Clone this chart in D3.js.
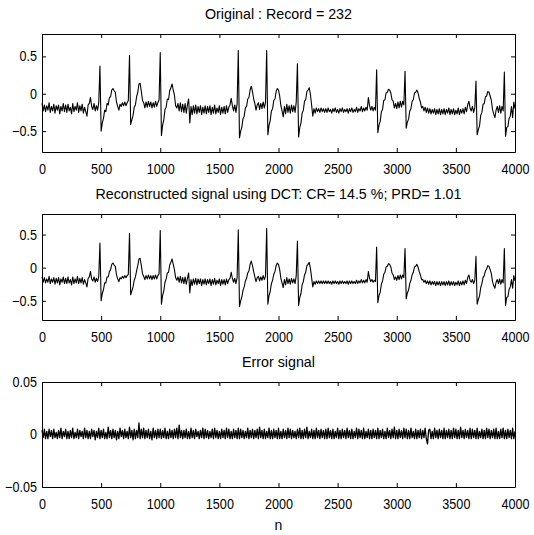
<!DOCTYPE html>
<html lang="en"><head>
<meta charset="utf-8">
<title>DCT compression - record 232</title>
<script src="https://cdnjs.cloudflare.com/ajax/libs/d3/7.8.5/d3.min.js"></script>
<style>
  body { margin: 0; background: #fff; }
  svg text { font-family: "Liberation Sans", Arial, sans-serif; fill: #000; }
  .axis path, .axis line { stroke: #000; }
</style>
</head>
<body>
<svg id="chart" width="534" height="535"></svg>
<script>
// samples every 10 points, n = 0 ... 4000
let step = 10

let originalSignal = [
  -0.13,-0.23,-0.15,-0.24,-0.16,-0.22,-0.12,-0.25,-0.17,-0.23,-0.14,-0.26,-0.16,-0.22,-0.15,-0.27,-0.17,-0.23,-0.13,-0.24,
  -0.15,-0.25,-0.14,-0.23,-0.18,-0.27,-0.13,-0.24,-0.17,-0.22,-0.12,-0.25,-0.16,-0.23,-0.14,-0.26,-0.18,-0.24,-0.30,-0.15,
  -0.13,-0.05,-0.17,-0.21,-0.13,-0.23,-0.16,-0.22,-0.12,0.37,-0.50,-0.39,-0.33,-0.22,-0.24,-0.13,-0.15,-0.05,-0.04,0.05,
  0.07,0.04,0.02,-0.11,-0.17,-0.22,-0.14,-0.17,-0.12,-0.16,-0.11,-0.16,-0.12,-0.09,0.51,-0.41,-0.35,-0.29,-0.18,-0.15,
  -0.04,0.02,0.13,0.14,0.03,-0.09,-0.12,-0.19,-0.11,-0.18,-0.10,-0.17,-0.11,-0.19,-0.12,-0.18,-0.10,-0.17,-0.12,-0.08,
  0.55,-0.56,-0.42,-0.35,-0.21,-0.18,-0.07,-0.08,0.04,0.08,0.13,0.05,-0.02,-0.16,-0.19,-0.13,-0.23,-0.12,-0.24,-0.14,
  -0.25,-0.13,-0.26,-0.15,-0.07,-0.39,-0.17,-0.28,-0.16,-0.26,-0.15,-0.27,-0.17,-0.25,-0.16,-0.28,-0.18,-0.26,-0.16,-0.27,
  -0.17,-0.25,-0.16,-0.28,-0.18,-0.26,-0.15,-0.27,-0.19,-0.25,-0.16,-0.28,-0.18,-0.26,-0.17,-0.27,-0.16,-0.25,-0.18,-0.15,
  -0.06,-0.16,-0.23,-0.15,-0.25,-0.14,0.58,-0.59,-0.50,-0.45,-0.33,-0.30,-0.19,-0.17,-0.07,-0.05,0.05,0.10,0.03,-0.07,
  -0.13,-0.22,-0.15,-0.12,-0.21,-0.13,-0.20,-0.11,-0.19,-0.12,0.58,-0.55,-0.42,-0.36,-0.23,-0.20,-0.09,-0.07,0.03,0.07,
  0.05,-0.03,-0.16,-0.23,-0.31,-0.17,-0.27,-0.14,-0.25,-0.16,-0.26,-0.15,-0.24,-0.16,-0.25,-0.11,0.40,-0.58,-0.45,-0.39,
  -0.26,-0.22,-0.10,-0.08,0.03,0.05,0.08,-0.01,-0.15,-0.30,-0.20,-0.26,-0.19,-0.24,-0.20,-0.25,-0.19,-0.24,-0.20,-0.25,
  -0.20,-0.25,-0.19,-0.24,-0.21,-0.26,-0.20,-0.24,-0.19,-0.25,-0.21,-0.26,-0.20,-0.24,-0.19,-0.25,-0.21,-0.24,-0.20,-0.26,
  -0.20,-0.24,-0.19,-0.25,-0.21,-0.24,-0.18,-0.25,-0.20,-0.23,-0.17,-0.24,-0.19,-0.23,-0.18,-0.22,-0.05,-0.16,-0.22,-0.17,
  -0.23,-0.18,-0.22,0.32,-0.52,-0.42,-0.37,-0.24,-0.21,-0.09,-0.08,0.01,0.02,0.06,0.05,0.01,-0.08,-0.10,-0.19,-0.13,
  -0.20,-0.11,-0.19,-0.10,-0.18,-0.10,-0.15,0.30,-0.46,-0.38,-0.34,-0.23,-0.20,-0.10,-0.08,0.01,0.02,0.05,0.01,-0.06,
  -0.11,-0.19,-0.17,-0.23,-0.18,-0.25,-0.19,-0.26,-0.20,-0.27,-0.21,-0.26,-0.20,-0.28,-0.21,-0.27,-0.20,-0.28,-0.21,-0.27,
  -0.20,-0.28,-0.21,-0.26,-0.19,-0.28,-0.21,-0.27,-0.20,-0.28,-0.22,-0.27,-0.19,-0.28,-0.21,-0.26,-0.20,-0.27,-0.18,-0.24,
  -0.15,-0.10,-0.19,-0.23,-0.17,-0.25,-0.19,0.17,-0.55,-0.48,-0.43,-0.29,-0.25,-0.14,-0.13,-0.04,-0.03,0.03,0.02,-0.03,
  -0.09,-0.21,-0.27,-0.32,-0.22,-0.17,-0.25,-0.16,-0.26,-0.17,-0.23,0.29,-0.57,-0.45,-0.44,-0.33,-0.30,-0.17,-0.32,-0.11,
  -0.20
]

let reconstructedSignal = [
  -0.14,-0.22,-0.15,-0.23,-0.17,-0.22,-0.13,-0.24,-0.17,-0.22,-0.15,-0.25,-0.16,-0.23,-0.15,-0.26,-0.17,-0.22,-0.14,-0.24,
  -0.16,-0.24,-0.14,-0.23,-0.18,-0.26,-0.14,-0.24,-0.17,-0.23,-0.13,-0.24,-0.16,-0.23,-0.15,-0.25,-0.18,-0.23,-0.29,-0.16,
  -0.14,-0.06,-0.17,-0.20,-0.14,-0.22,-0.16,-0.21,-0.13,0.37,-0.50,-0.39,-0.33,-0.23,-0.23,-0.14,-0.14,-0.06,-0.03,0.05,
  0.07,0.04,0.02,-0.11,-0.17,-0.21,-0.15,-0.17,-0.13,-0.16,-0.12,-0.15,-0.12,-0.10,0.52,-0.41,-0.35,-0.29,-0.19,-0.14,
  -0.05,0.03,0.13,0.14,0.03,-0.09,-0.13,-0.18,-0.12,-0.17,-0.11,-0.17,-0.12,-0.18,-0.12,-0.17,-0.11,-0.17,-0.12,-0.09,
  0.56,-0.55,-0.42,-0.35,-0.22,-0.17,-0.08,-0.07,0.04,0.08,0.13,0.05,-0.03,-0.15,-0.19,-0.14,-0.22,-0.13,-0.23,-0.15,
  -0.24,-0.14,-0.25,-0.16,-0.08,-0.38,-0.18,-0.27,-0.17,-0.25,-0.16,-0.26,-0.17,-0.24,-0.17,-0.27,-0.18,-0.25,-0.17,-0.26,
  -0.18,-0.24,-0.17,-0.27,-0.18,-0.25,-0.16,-0.26,-0.19,-0.24,-0.17,-0.27,-0.18,-0.25,-0.18,-0.26,-0.17,-0.24,-0.18,-0.16,
  -0.07,-0.16,-0.22,-0.16,-0.24,-0.15,0.57,-0.59,-0.50,-0.44,-0.34,-0.29,-0.20,-0.16,-0.08,-0.05,0.05,0.10,0.03,-0.06,
  -0.14,-0.21,-0.15,-0.13,-0.20,-0.14,-0.19,-0.12,-0.18,-0.13,0.59,-0.55,-0.42,-0.36,-0.24,-0.19,-0.10,-0.06,0.03,0.07,
  0.05,-0.03,-0.16,-0.23,-0.30,-0.18,-0.26,-0.15,-0.24,-0.17,-0.25,-0.16,-0.23,-0.17,-0.24,-0.12,0.40,-0.57,-0.45,-0.39,
  -0.26,-0.21,-0.11,-0.07,0.03,0.05,0.08,-0.01,-0.15,-0.29,-0.21,-0.25,-0.20,-0.24,-0.20,-0.24,-0.20,-0.24,-0.20,-0.24,
  -0.20,-0.24,-0.20,-0.24,-0.21,-0.25,-0.20,-0.24,-0.20,-0.24,-0.21,-0.25,-0.20,-0.24,-0.20,-0.24,-0.21,-0.24,-0.20,-0.25,
  -0.20,-0.24,-0.20,-0.24,-0.21,-0.24,-0.19,-0.24,-0.20,-0.23,-0.18,-0.23,-0.19,-0.23,-0.18,-0.22,-0.06,-0.16,-0.21,-0.18,
  -0.22,-0.19,-0.21,0.31,-0.53,-0.42,-0.37,-0.25,-0.20,-0.10,-0.07,0.01,0.02,0.06,0.05,0.01,-0.08,-0.11,-0.18,-0.14,
  -0.19,-0.12,-0.18,-0.11,-0.17,-0.11,-0.15,0.29,-0.47,-0.38,-0.34,-0.24,-0.19,-0.11,-0.07,0.01,0.02,0.05,0.01,-0.06,
  -0.11,-0.18,-0.18,-0.22,-0.19,-0.24,-0.20,-0.25,-0.20,-0.26,-0.21,-0.25,-0.21,-0.27,-0.21,-0.26,-0.21,-0.27,-0.21,-0.26,
  -0.21,-0.27,-0.21,-0.26,-0.20,-0.27,-0.21,-0.26,-0.21,-0.27,-0.22,-0.26,-0.20,-0.27,-0.21,-0.26,-0.20,-0.26,-0.19,-0.24,
  -0.15,-0.11,-0.19,-0.22,-0.18,-0.24,-0.19,0.17,-0.55,-0.48,-0.43,-0.30,-0.24,-0.15,-0.12,-0.05,-0.02,0.03,0.02,-0.03,
  -0.09,-0.21,-0.27,-0.31,-0.22,-0.18,-0.24,-0.17,-0.25,-0.18,-0.23,0.29,-0.57,-0.45,-0.44,-0.33,-0.29,-0.18,-0.31,-0.12,
  -0.20
]

let errorSignal = [
  0.004,-0.003,0.005,-0.004,0.003,-0.004,0.005,-0.002,0.004,-0.004,0.005,-0.003,0.002,-0.004,0.004,-0.003,0.006,-0.004,0.003,-0.002,
  0.005,-0.004,0.003,-0.004,0.004,-0.003,0.006,-0.004,0.002,-0.003,0.005,-0.004,0.004,-0.002,0.003,-0.004,0.006,-0.003,0.004,-0.004,
  0.003,-0.004,0.005,-0.002,0.004,-0.005,0.003,-0.003,0.006,-0.004,0.004,-0.003,0.005,-0.004,0.002,-0.004,0.007,-0.003,0.004,-0.004,
  0.005,-0.003,0.004,-0.005,0.003,-0.004,0.006,-0.002,0.004,-0.004,0.005,-0.003,0.003,-0.004,0.007,-0.003,0.004,-0.005,0.005,-0.004,
  0.004,-0.003,0.011,-0.004,0.005,-0.003,0.006,-0.004,0.004,-0.003,0.005,-0.004,0.003,-0.005,0.006,-0.003,0.004,-0.004,0.005,-0.003,
  0.005,-0.004,0.004,-0.003,0.006,-0.004,0.003,-0.004,0.005,-0.003,0.004,-0.004,0.005,-0.003,0.006,-0.004,0.009,-0.003,0.004,-0.004,
  0.004,-0.003,0.005,-0.004,0.003,-0.004,0.006,-0.003,0.004,-0.004,0.005,-0.002,0.003,-0.004,0.004,-0.003,0.006,-0.004,0.005,-0.003,
  0.004,-0.004,0.003,-0.003,0.005,-0.004,0.006,-0.003,0.004,-0.004,0.003,-0.004,0.005,-0.003,0.004,-0.004,0.006,-0.003,0.005,-0.004,
  0.003,-0.004,0.005,-0.003,0.004,-0.004,0.006,-0.004,0.005,-0.003,0.004,-0.004,0.003,-0.003,0.006,-0.004,0.004,-0.003,0.005,-0.004,
  0.004,-0.003,0.005,-0.004,0.007,-0.003,0.004,-0.004,0.005,-0.004,0.003,-0.003,0.006,-0.004,0.004,-0.004,0.005,-0.003,0.004,-0.004,
  0.006,-0.004,0.003,-0.004,0.005,-0.003,0.004,-0.004,0.006,-0.003,0.005,-0.004,0.004,-0.003,0.003,-0.004,0.005,-0.003,0.006,-0.004,
  0.004,-0.004,0.005,-0.003,0.007,-0.004,0.003,-0.003,0.005,-0.004,0.004,-0.004,0.006,-0.003,0.004,-0.004,0.005,-0.003,0.004,-0.004,
  0.005,-0.004,0.006,-0.003,0.004,-0.004,0.005,-0.004,0.003,-0.003,0.006,-0.004,0.004,-0.004,0.005,-0.003,0.004,-0.004,0.006,-0.003,
  0.004,-0.004,0.005,-0.004,0.003,-0.003,0.006,-0.004,0.005,-0.003,0.004,-0.004,0.006,-0.004,0.003,-0.003,0.005,-0.004,0.004,-0.004,
  0.005,-0.003,0.004,-0.004,0.006,-0.004,0.004,-0.003,0.005,-0.004,0.003,-0.004,0.006,-0.003,0.004,-0.004,0.005,-0.003,0.007,-0.004,
  0.004,-0.004,0.005,-0.003,0.004,-0.004,0.006,-0.003,0.005,-0.004,0.004,-0.004,0.006,-0.003,0.003,-0.004,0.005,-0.004,0.004,-0.003,
  0.005,-0.004,0.004,-0.003,0.006,-0.004,-0.009,0.004,0.005,-0.004,0.003,-0.004,0.006,-0.003,0.004,-0.004,0.005,-0.003,0.004,-0.004,
  0.006,-0.004,0.004,-0.003,0.005,-0.004,0.004,-0.004,0.006,-0.003,0.005,-0.004,0.004,-0.004,0.007,-0.003,0.004,-0.004,0.005,-0.003,
  0.004,-0.004,0.006,-0.004,0.005,-0.003,0.004,-0.004,0.006,-0.004,0.003,-0.003,0.005,-0.004,0.004,-0.004,0.006,-0.003,0.005,-0.004,
  0.004,-0.003,0.005,-0.004,0.006,-0.004,0.003,-0.004,0.005,-0.003,0.006,-0.004,0.004,-0.004,0.005,-0.003,0.004,-0.004,0.006,-0.004,
  0.003
]

let xTicks = [0, 500, 1000, 1500, 2000, 2500, 3000, 3500, 4000]
let ecgTicks = [-0.5, 0, 0.5]
let errTicks = [-0.05, 0, 0.05]

let titles = [
  "Original : Record = 232",
  "Reconstructed signal using DCT: CR= 14.5 %; PRD= 1.01",
  "Error signal"
]

let left = 42, width = 473
let panels = [
  {top: 34, height: 118, domain: [-0.78, 0.8], ticks: ecgTicks, data: originalSignal, title: titles[0], sw: 1.1},
  {top: 214, height: 106, domain: [-0.79, 0.81], ticks: ecgTicks, data: reconstructedSignal, title: titles[1], sw: 1.1},
  {top: 382, height: 105, domain: [-0.05, 0.05], ticks: errTicks, data: errorSignal, title: titles[2], sw: 1.3}
]

let svg = d3.select("#chart")
svg.append("rect").attr("width", 534).attr("height", 535).attr("fill", "#fff")

let x = d3.scaleLinear().domain([0, 4000]).range([0, width])

// squeeze the labels a bit, the source font is narrower than Arial
function squeeze(sel, k) {
  sel.each(function() {
    let w = this.getComputedTextLength()
    this.setAttribute("textLength", w * k)
    this.setAttribute("lengthAdjust", "spacingAndGlyphs")
  })
}

panels.forEach(p => {
  let y = d3.scaleLinear().domain(p.domain).range([p.height, 0])
  let g = svg.append("g").attr("transform", `translate(${left},${p.top})`)

  let line = d3.line()
    .x((d, j) => x(j * step))
    .y(d => y(d))

  g.append("path")
    .datum(p.data)
    .attr("d", line)
    .attr("fill", "none")
    .attr("stroke", "#000")
    .attr("stroke-width", p.sw)
    .attr("stroke-linejoin", "round")

  g.append("g").attr("class", "axis")
    .attr("transform", `translate(0,${p.height})`)
    .call(d3.axisBottom(x).tickValues(xTicks).tickSizeInner(-4).tickSizeOuter(0).tickPadding(12).tickFormat(d3.format("")))
  g.append("g").attr("class", "axis")
    .call(d3.axisTop(x).tickValues(xTicks).tickSizeInner(-4).tickSizeOuter(0).tickFormat(""))
  g.append("g").attr("class", "axis")
    .call(d3.axisLeft(y).tickValues(p.ticks).tickSizeInner(-4).tickSizeOuter(0).tickPadding(5).tickFormat(d3.format("")))
  g.append("g").attr("class", "axis")
    .attr("transform", `translate(${width},0)`)
    .call(d3.axisRight(y).tickValues(p.ticks).tickSizeInner(-4).tickSizeOuter(0).tickFormat(""))

  g.selectAll(".axis text")
    .attr("font-size", 14)
    .attr("font-family", "Liberation Sans, Arial, sans-serif")
    .attr("fill", "#000")
  squeeze(g.selectAll(".axis text"), 0.9)

  let t = svg.append("text")
    .attr("x", left + width / 2)
    .attr("y", p.top - 15)
    .attr("text-anchor", "middle")
    .attr("font-size", 15)
    .text(p.title)
  squeeze(t, 0.95)
})

svg.append("text")
  .attr("x", left + width / 2)
  .attr("y", 530)
  .attr("text-anchor", "middle")
  .attr("font-size", 14)
  .text("n")
</script>
</body>
</html>
